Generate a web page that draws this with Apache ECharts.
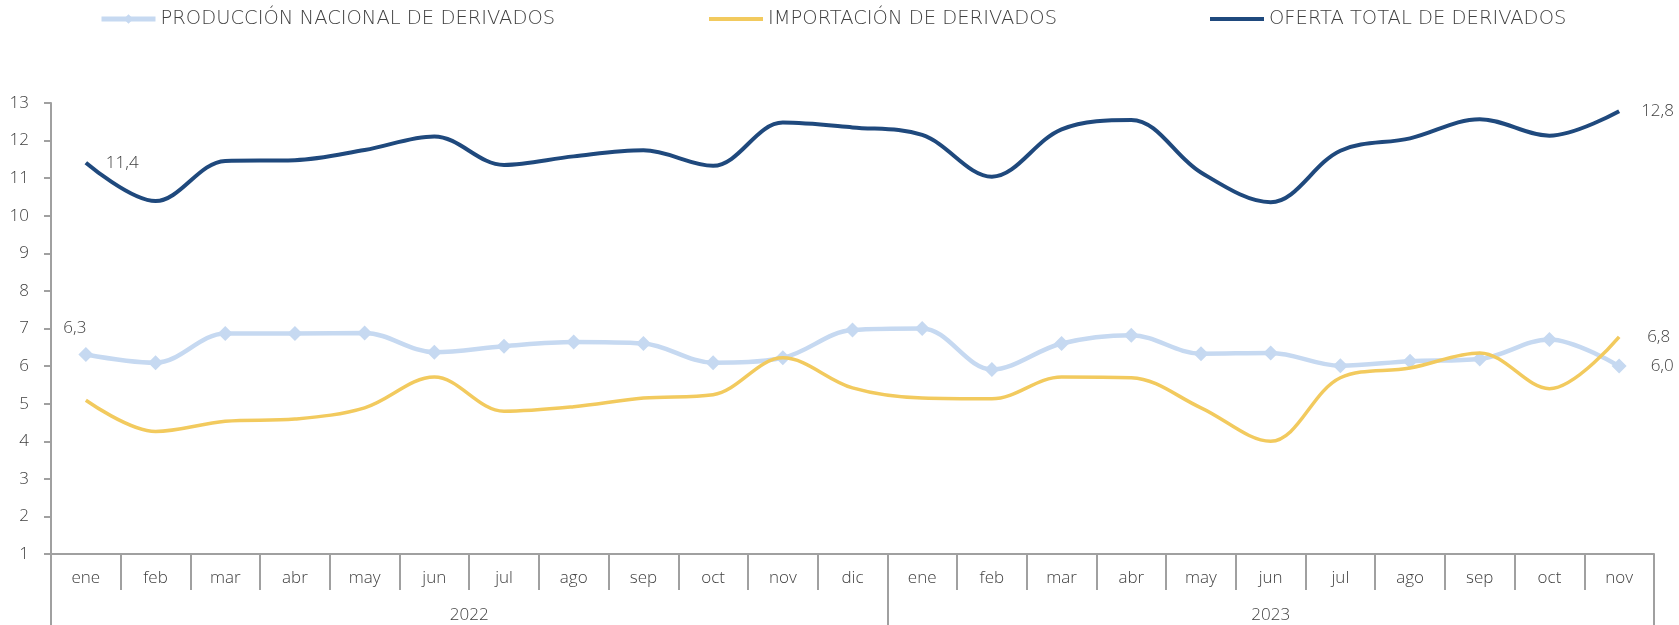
<!DOCTYPE html>
<html>
<head>
<meta charset="utf-8">
<script src="https://cdn.jsdelivr.net/npm/echarts@6/dist/echarts.min.js"></script>
<style>
  html, body { margin: 0; padding: 0; background: #fff; }
  #chart { width: 1679px; height: 625px; }
</style>
</head>
<body>
<div id="chart"></div>
<script>
// meses y años
var meses = ["ene", "feb", "mar", "abr", "may", "jun", "jul", "ago", "sep", "oct", "nov", "dic",
             "ene", "feb", "mar", "abr", "may", "jun", "jul", "ago", "sep", "oct", "nov"];
var anios = ["2022", "2023"];
var mesesPorAnio = [12, 11];

// series (millones)
var produccion = [6.31, 6.09, 6.87, 6.87, 6.88, 6.37, 6.53, 6.64, 6.60, 6.09, 6.22, 6.96,
                  7.00, 5.91, 6.60, 6.82, 6.33, 6.35, 6.01, 6.13, 6.19, 6.71, 6.00];
var importacion = [5.09, 4.26, 4.53, 4.59, 4.89, 5.71, 4.80, 4.92, 5.15, 5.24, 6.22, 5.42,
                   5.15, 5.13, 5.71, 5.69, 4.89, 4.00, 5.69, 5.95, 6.35, 5.40, 6.78];
var oferta = [11.41, 10.39, 11.46, 11.48, 11.75, 12.11, 11.35, 11.58, 11.74, 11.33, 12.48, 12.35,
              12.15, 11.04, 12.30, 12.55, 11.15, 10.36, 11.73, 12.06, 12.57, 12.13, 12.78];

var nombres = ["PRODUCCIÓN NACIONAL DE DERIVADOS", "IMPORTACIÓN DE DERIVADOS", "OFERTA TOTAL DE DERIVADOS"];

var fuente = "Open Sans";
var gris = "#a0a0a0";
var texto = "#404040";

function fmt(v) {
  return v.toFixed(1).replace(".", ",");
}

// categorias unicas para que no se repitan los nombres
var categorias = [];
var k = 0;
for (var a = 0; a < anios.length; a++) {
  for (var m = 0; m < mesesPorAnio[a]; m++) {
    categorias.push(meses[k] + "|" + anios[a]);
    k++;
  }
}

// limites y centros de los años sobre un eje de valores
var limites = [0];
var centros = [];
var acum = 0;
for (var a = 0; a < mesesPorAnio.length; a++) {
  centros.push(acum + mesesPorAnio[a] / 2);
  acum += mesesPorAnio[a];
  limites.push(acum);
}

// etiquetas solo en algunos puntos
function conEtiquetas(valores, etiquetas) {
  return valores.map(function (v, i) {
    if (etiquetas[i]) {
      return { value: v, label: Object.assign({ show: true, formatter: fmt(v) }, etiquetas[i]) };
    }
    return v;
  });
}

var ultimo = meses.length - 1;
var etiqProd = {}; etiqProd[0] = { position: "top", offset: [-11, 0], distance: 10 }; etiqProd[ultimo] = { position: "right", distance: 24 };
var etiqImp = {}; etiqImp[ultimo] = { position: "right", distance: 28 };
var etiqOf = {}; etiqOf[0] = { position: "right", distance: 20 }; etiqOf[ultimo] = { position: "right", distance: 22 };

var leyendaTexto = { color: texto, fontFamily: "DejaVu Sans", fontSize: 19.5, fontWeight: 200 };
var ejeTexto = { color: texto, fontFamily: fuente, fontSize: 17, fontWeight: 300 };

var option = {
  backgroundColor: "#fff",
  animation: false,
  textStyle: { fontFamily: fuente },
  legend: [
    { data: [nombres[0]], left: 99, top: 9, padding: 0, itemWidth: 54, itemHeight: 12,
      lineStyle: { width: 5 }, textStyle: leyendaTexto },
    { data: [{ name: nombres[1], icon: "rect" }], left: 709, top: 9, padding: 0, itemWidth: 54, itemHeight: 4, textStyle: leyendaTexto },
    { data: [{ name: nombres[2], icon: "rect" }], left: 1210, top: 9, padding: 0, itemWidth: 54, itemHeight: 4, textStyle: leyendaTexto }
  ],
  grid: { left: 51, right: 25, top: 103, bottom: 71, containLabel: false },
  xAxis: [
    {
      type: "category",
      data: categorias,
      boundaryGap: true,
      axisLine: { lineStyle: { color: gris, width: 2 } },
      axisTick: { show: true, interval: 0, length: 36, lineStyle: { color: gris, width: 2 } },
      axisLabel: Object.assign({
        interval: 0, margin: 16,
        formatter: function (v) { return v.split("|")[0]; }
      }, ejeTexto)
    },
    {
      type: "value",
      min: 0,
      max: limites[limites.length - 1],
      position: "bottom",
      axisLine: { show: false },
      splitLine: { show: false },
      axisTick: { show: true, customValues: limites, length: 71, lineStyle: { color: gris, width: 2 } },
      axisLabel: Object.assign({
        customValues: centros, margin: 53,
        formatter: function (v) { return anios[centros.indexOf(v)]; }
      }, ejeTexto)
    }
  ],
  yAxis: {
    type: "value",
    min: 1,
    max: 13,
    interval: 1,
    splitLine: { show: false },
    axisLine: { show: true, lineStyle: { color: gris, width: 2 } },
    axisTick: { show: true, length: 7, lineStyle: { color: gris, width: 2 } },
    axisLabel: Object.assign({ margin: 22 }, ejeTexto)
  },
  series: [
    {
      name: nombres[0],
      type: "line",
      xAxisIndex: 0,
      smooth: 0.35,
      data: conEtiquetas(produccion, etiqProd),
      symbol: "diamond",
      symbolSize: 15,
      itemStyle: { color: "#c6d9f1" },
      lineStyle: { color: "#c6d9f1", width: 4.5 },
      label: ejeTexto,
      z: 2
    },
    {
      name: nombres[1],
      type: "line",
      xAxisIndex: 0,
      smooth: 0.35,
      data: conEtiquetas(importacion, etiqImp),
      symbol: "circle",
      symbolSize: 0,
      itemStyle: { color: "#f2ca5e" },
      lineStyle: { color: "#f2ca5e", width: 3.5 },
      label: ejeTexto,
      z: 3
    },
    {
      name: nombres[2],
      type: "line",
      xAxisIndex: 0,
      smooth: 0.35,
      data: conEtiquetas(oferta, etiqOf),
      symbol: "circle",
      symbolSize: 0,
      itemStyle: { color: "#1f497d" },
      lineStyle: { color: "#1f497d", width: 4 },
      label: ejeTexto,
      z: 4
    }
  ]
};

var myChart = echarts.init(document.getElementById("chart"));
myChart.setOption(option);
</script>
</body>
</html>
